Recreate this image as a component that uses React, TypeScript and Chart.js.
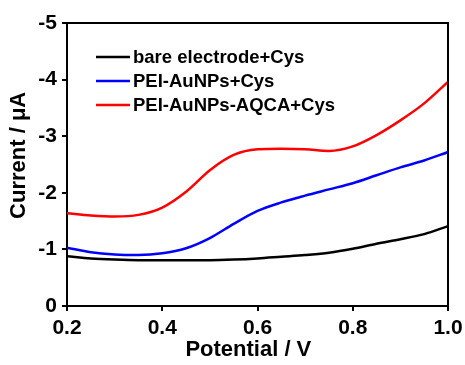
import React, { useEffect, useRef } from "react";
import { Chart, registerables } from "chart.js";

Chart.register(...registerables);

const potential = [0.2, 0.25, 0.3, 0.35, 0.4, 0.45, 0.5, 0.55, 0.6, 0.65, 0.7, 0.75, 0.8, 0.85, 0.9, 0.95, 1.0];
const bareElectrode = [-0.88, -0.84, -0.82, -0.81, -0.81, -0.81, -0.81, -0.82, -0.84, -0.87, -0.9, -0.94, -1.01, -1.1, -1.18, -1.27, -1.41];
const peiAuNPs = [-1.03, -0.95, -0.91, -0.9, -0.93, -1.02, -1.2, -1.45, -1.68, -1.83, -1.95, -2.06, -2.17, -2.31, -2.45, -2.57, -2.72];
const peiAuNPsAQCA = [-1.64, -1.6, -1.58, -1.61, -1.74, -2.02, -2.4, -2.67, -2.77, -2.78, -2.77, -2.74, -2.82, -3.02, -3.28, -3.58, -3.96];
const seriesLabels = ["bare electrode+Cys", "PEI-AuNPs+Cys", "PEI-AuNPs-AQCA+Cys"];
const seriesColors = ["#000000", "#0000ff", "#ff0000"];
const xTicks = [0.2, 0.4, 0.6, 0.8, 1.0];
const yTicks = [-5, -4, -3, -2, -1, 0];

const FONT = "'Liberation Sans', Arial, sans-serif";

const framePlugin = {
  id: "frame",
  afterDraw(chart: any) {
    const { ctx, chartArea } = chart;
    ctx.save();
    ctx.strokeStyle = "#000";
    ctx.lineWidth = 2;
    ctx.beginPath();
    ctx.moveTo(chartArea.left, chartArea.top);
    ctx.lineTo(chartArea.right, chartArea.top);
    ctx.lineTo(chartArea.right, chartArea.bottom);
    ctx.stroke();
    ctx.restore();
  },
};

const legendPlugin = {
  id: "insideLegend",
  afterDraw(chart: any) {
    const { ctx, chartArea } = chart;
    ctx.save();
    ctx.font = `bold 18.5px ${FONT}`;
    ctx.textBaseline = "middle";
    ctx.textAlign = "left";
    const x0 = chartArea.left + 29;
    const y0 = chartArea.top + 34;
    chart.data.datasets.forEach((ds: any, i: number) => {
      const y = y0 + i * 24;
      ctx.strokeStyle = ds.borderColor;
      ctx.lineWidth = 2.5;
      ctx.beginPath();
      ctx.moveTo(x0, y);
      ctx.lineTo(x0 + 34, y);
      ctx.stroke();
      ctx.fillStyle = "#000";
      ctx.fillText(ds.label, x0 + 37, y + 1);
    });
    ctx.restore();
  },
};

export default function App() {
  const ref = useRef<HTMLCanvasElement>(null);
  useEffect(() => {
    document.body.style.margin = "0";
    const series = [bareElectrode, peiAuNPs, peiAuNPsAQCA];
    const chart = new Chart(ref.current!, {
      type: "line",
      data: {
        datasets: series.map((vals, i) => ({
          label: seriesLabels[i],
          data: potential.map((x, j) => ({ x, y: vals[j] })),
          borderColor: seriesColors[i],
          backgroundColor: seriesColors[i],
          borderWidth: 2.5,
          pointRadius: 0,
          cubicInterpolationMode: "monotone" as const,
          fill: false,
        })),
      },
      options: {
        responsive: false,
        animation: false,
        layout: { padding: { top: 23, right: 17, left: 0, bottom: 0 } },
        plugins: { legend: { display: false }, tooltip: { enabled: false } },
        scales: {
          x: {
            type: "linear",
            min: 0.2,
            max: 1.0,
            afterBuildTicks: (s: any) => {
              s.ticks = xTicks.map((v) => ({ value: v }));
            },
            afterFit: (s: any) => {
              s.height = 59;
              s.paddingLeft = 0;
              s.paddingRight = 0;
            },
            ticks: {
              color: "#000",
              font: { family: FONT, size: 21, weight: "bold" },
              padding: 5,
              maxRotation: 0,
              callback: (v: any) => Number(v).toFixed(1),
            },
            grid: { drawOnChartArea: false, drawTicks: true, tickLength: 5, tickColor: "#000", lineWidth: 2 },
            border: { display: true, color: "#000", width: 2 },
            title: {
              display: true,
              text: "Potential / V   ",
              color: "#000",
              font: { family: FONT, size: 22, weight: "bold" },
              padding: { top: 0, bottom: 2 },
            },
          },
          y: {
            type: "linear",
            min: -5,
            max: 0,
            reverse: true,
            afterBuildTicks: (s: any) => {
              s.ticks = yTicks.map((v) => ({ value: v }));
            },
            afterFit: (s: any) => {
              s.width = 67;
              s.paddingTop = 0;
              s.paddingBottom = 0;
            },
            ticks: {
              color: "#000",
              font: { family: FONT, size: 21, weight: "bold" },
              padding: 5,
              callback: (v: any) => String(v),
            },
            grid: { drawOnChartArea: false, drawTicks: true, tickLength: 5, tickColor: "#000", lineWidth: 2 },
            border: { display: true, color: "#000", width: 2 },
            title: {
              display: true,
              text: "   Current / μA",
              color: "#000",
              font: { family: FONT, size: 22, weight: "bold" },
              padding: { top: 6, bottom: 0 },
            },
          },
        },
      },
      plugins: [framePlugin, legendPlugin],
    });
    return () => chart.destroy();
  }, []);
  return <canvas ref={ref} width={465} height={365} style={{ display: "block" }} />;
}
